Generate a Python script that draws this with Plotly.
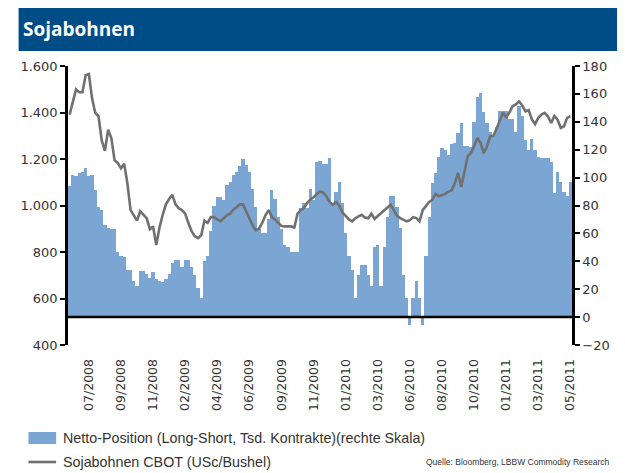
import plotly.graph_objects as go

# Weekly net position (thousand contracts, right scale)
net_position = [
    94, 102, 101, 103, 104, 107, 101, 102, 91, 79,
    77, 66, 64, 63, 63, 47, 44, 43, 34, 34,
    26, 22, 33, 33, 31, 28, 32, 27, 26, 25,
    27, 31, 39, 41, 41, 36, 41, 41, 36, 30,
    21, 14, 40, 44, 62, 80, 86, 86, 84, 95,
    97, 102, 104, 108, 113, 109, 104, 92, 79, 63,
    60, 60, 70, 91, 85, 72, 63, 52, 50, 47,
    47, 47, 78, 82, 78, 92, 84, 111, 112, 110,
    110, 114, 82, 90, 97, 82, 60, 44, 34, 14,
    30, 37, 37, 30, 22, 50, 52, 22, 50, 72,
    87, 87, 79, 64, 30, 14, -6, 14, 26, 14,
    -6, 44, 72, 96, 103, 115, 121, 120, 116, 124,
    125, 132, 139, 123, 123, 122, 140, 158, 161, 147,
    139, 133, 130, 136, 148, 148, 148, 142, 142, 133,
    151, 144, 127, 120, 128, 120, 115, 114, 114, 114,
    111, 89, 104, 97, 90, 87, 97,
]

# Soybean price CBOT (USc/Bushel, left scale)
soy_price = [
    1391, 1441, 1499, 1487, 1487, 1560, 1565, 1460, 1398, 1384,
    1280, 1235, 1326, 1290, 1195, 1183, 1160, 1180, 1095, 980,
    958, 935, 975, 960, 946, 898, 910, 830, 905, 960,
    1005, 1028, 1046, 1005, 988, 980, 965, 925, 890, 868,
    860, 872, 935, 925, 950, 950, 940, 932, 945, 958,
    965, 982, 992, 1005, 1005, 978, 945, 915, 893, 900,
    925, 958, 980, 950, 940, 925, 912, 910, 910, 910,
    905, 965, 980, 990, 1010, 1025, 1035, 1050, 1060, 1055,
    1040, 1015, 1003, 1015, 1000, 970, 955, 940, 932, 945,
    953, 960, 948, 945, 965, 942, 955, 967, 982, 995,
    1003, 980, 955, 946, 940, 932, 937, 950, 946, 932,
    980, 1000, 1015, 1025, 1050, 1040, 1045, 1050, 1060, 1065,
    1095, 1140, 1080, 1150, 1211, 1226, 1254, 1290, 1270, 1225,
    1254, 1297, 1300, 1330, 1369, 1400, 1380, 1400, 1427, 1435,
    1448, 1430, 1405, 1410, 1370, 1350, 1377, 1391, 1398, 1384,
    1355, 1385, 1369, 1334, 1341, 1377, 1384,
]

weeks = list(range(len(net_position)))

tick_weeks = [6, 16, 26, 36, 46, 56, 66, 76, 86, 96, 106, 116, 126, 136, 146, 156]
tick_labels = ["07/2008", "09/2008", "11/2008", "02/2009", "04/2009", "06/2009",
               "09/2009", "11/2009", "01/2010", "03/2010", "06/2010", "08/2010",
               "10/2010", "01/2011", "03/2011", "05/2011"]

left_ticks = [400, 600, 800, 1000, 1200, 1400, 1600]
left_labels = ["400", "600", "800", "1.000", "1.200", "1.400", "1.600"]
right_ticks = [-20, 0, 20, 40, 60, 80, 100, 120, 140, 160, 180]

BAR_COLOR = "#7BA6D4"
LINE_COLOR = "#707070"
TITLE_BLUE = "#004C87"
FONT = "DejaVu Sans"
TXT = "#333333"

fig = go.Figure()
fig.add_trace(go.Bar(x=weeks, y=net_position, marker=dict(color=BAR_COLOR, line=dict(width=0)),
                     yaxis="y", name="Netto-Position"))
fig.add_trace(go.Scatter(x=weeks, y=soy_price, mode="lines", line=dict(color=LINE_COLOR, width=2.6),
                         yaxis="y2", name="Sojabohnen CBOT"))

OFF = 8  # page body margin
W, H = 625 - OFF, 473 - OFF
L, T = 62 - OFF, 66 - OFF
R = W - (572 - OFF)
B = H - (345 - OFF)
pw, ph = W - L - R, H - T - B

def px(x):
    return (x - OFF - L) / pw

def py(y):
    return (H - B - (y - OFF)) / ph

shapes = [
    dict(type="rect", xref="paper", yref="paper", x0=px(12), x1=px(630), y0=py(51), y1=py(7),
         fillcolor=TITLE_BLUE, line=dict(width=0), layer="below"),
    dict(type="line", xref="paper", yref="y", x0=0, x1=1, y0=0, y1=0,
         line=dict(color="black", width=2.5), layer="above"),
    dict(type="rect", xref="paper", yref="paper", x0=px(22), x1=px(50), y0=py(444), y1=py(432),
         fillcolor=BAR_COLOR, line=dict(width=0)),
    dict(type="line", xref="paper", yref="paper", x0=px(22), x1=px(50), y0=py(462), y1=py(462),
         line=dict(color=LINE_COLOR, width=2.6)),
]

annotations = [
    dict(text="<b>Sojabohnen</b>", xref="paper", yref="paper", x=px(14), y=py(29),
         xanchor="left", yanchor="middle", showarrow=False,
         font=dict(family="Open Sans", size=19, color="white")),
    dict(text="Netto-Position (Long-Short, Tsd. Kontrakte)(rechte Skala)", xref="paper", yref="paper",
         x=px(55), y=py(438), xanchor="left", yanchor="middle", showarrow=False,
         font=dict(family="Liberation Sans", size=14.3, color=TXT)),
    dict(text="Sojabohnen CBOT (USc/Bushel)", xref="paper", yref="paper",
         x=px(55), y=py(462), xanchor="left", yanchor="middle", showarrow=False,
         font=dict(family="Liberation Sans", size=14.3, color=TXT)),
    dict(text="Quelle: Bloomberg, LBBW Commodity Research", xref="paper", yref="paper",
         x=px(612), y=py(462), xanchor="right", yanchor="middle", showarrow=False,
         font=dict(family="Liberation Sans", size=8.5, color=TXT)),
]

fig.update_layout(
    width=W, height=H,
    margin=dict(l=L, r=R, t=T, b=B, pad=0),
    plot_bgcolor="white", paper_bgcolor="white",
    bargap=0, showlegend=False,
    font=dict(family=FONT, size=12, color=TXT),
    shapes=shapes, annotations=annotations,
    xaxis=dict(range=[-0.5, len(weeks) - 0.5], tickmode="array", tickvals=tick_weeks, ticktext=tick_labels,
               tickangle=-90, ticks="outside", ticklen=8, tickcolor="rgba(0,0,0,0)",
               showgrid=False, zeroline=False, showline=False,
               tickfont=dict(family=FONT, size=12.5, color=TXT)),
    yaxis=dict(side="right", range=[-20, 180], tickmode="array", tickvals=right_ticks,
               showgrid=False, zeroline=False, showline=True, linecolor="black", linewidth=2.5,
               ticks="outside", ticklen=5, tickwidth=2, tickcolor="black",
               tickfont=dict(family=FONT, size=13, color=TXT)),
    yaxis2=dict(side="left", overlaying="y", range=[400, 1600], tickmode="array",
                tickvals=left_ticks, ticktext=left_labels,
                showgrid=False, zeroline=False, showline=True, linecolor="black", linewidth=2.5,
                ticks="outside", ticklen=5, tickwidth=2, tickcolor="black",
                tickfont=dict(family=FONT, size=13, color=TXT)),
)

fig.write_html("out.html")
